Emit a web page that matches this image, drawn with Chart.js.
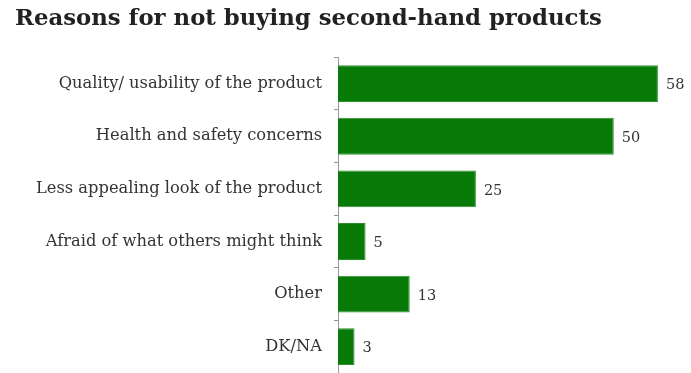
<!DOCTYPE html>
<html>
<head>
<meta charset="utf-8">
<script src="https://cdn.jsdelivr.net/npm/chart.js@4"></script>
<style>
  html, body { margin: 0; padding: 0; background: #fff; }
</style>
</head>
<body>
<canvas id="reasons-chart" width="691" height="373"></canvas>
<script>
const categories = [
  'Quality/ usability of the product',
  'Health and safety concerns',
  'Less appealing look of the product',
  'Afraid of what others might think',
  'Other',
  'DK/NA',
]
const shares = [58, 50, 25, 5, 13, 3]

const serif = '"DejaVu Serif", "Liberation Serif", serif'

// writes the number just past the end of each bar
const valueLabels = {
  id: 'valueLabels',
  afterDatasetsDraw(chart) {
    const c = chart.ctx
    const meta = chart.getDatasetMeta(0)
    c.save()
    c.font = '14.5px ' + serif
    c.fillStyle = '#333'
    c.textBaseline = 'middle'
    meta.data.forEach((bar, i) => {
      c.fillText(String(shares[i]), bar.x + 8, bar.y + 2)
    })
    c.restore()
  },
}

document.addEventListener('DOMContentLoaded', () => {
  const ctx = document.getElementById('reasons-chart').getContext('2d')

  new Chart(ctx, {
    type: 'bar',
    data: {
      labels: categories,
      datasets: [
        {
          data: shares,
          backgroundColor: '#087a08',
          borderColor: '#2f8f2f',
          borderWidth: 1,
          categoryPercentage: 1,
          barPercentage: 0.7,
        },
      ],
    },
    plugins: [valueLabels],
    options: {
      indexAxis: 'y',
      responsive: false,
      animation: false,
      layout: { padding: { left: 15, right: 0, top: 0, bottom: 0 } },
      scales: {
        x: {
          display: false,
          min: 0,
          max: 64,
        },
        y: {
          afterFit(scale) {
            scale.width = 323
            // let the bands run to the bottom edge
            scale.paddingTop = 0
            scale.paddingBottom = 0
          },
          grid: {
            drawOnChartArea: false,
            tickLength: 4,
            color: '#999',
          },
          border: { display: true, color: '#999', width: 1 },
          ticks: {
            color: '#333',
            padding: 12,
            font: { family: serif, size: 16.3 },
          },
        },
      },
      plugins: {
        legend: { display: false },
        tooltip: { enabled: false },
        title: {
          display: true,
          text: 'Reasons for not buying second-hand products',
          align: 'start',
          color: '#222',
          font: { family: serif, size: 22.8, weight: 'bold' },
          padding: { top: 5, bottom: 25 },
        },
      },
    },
  })
})
</script>
</body>
</html>
